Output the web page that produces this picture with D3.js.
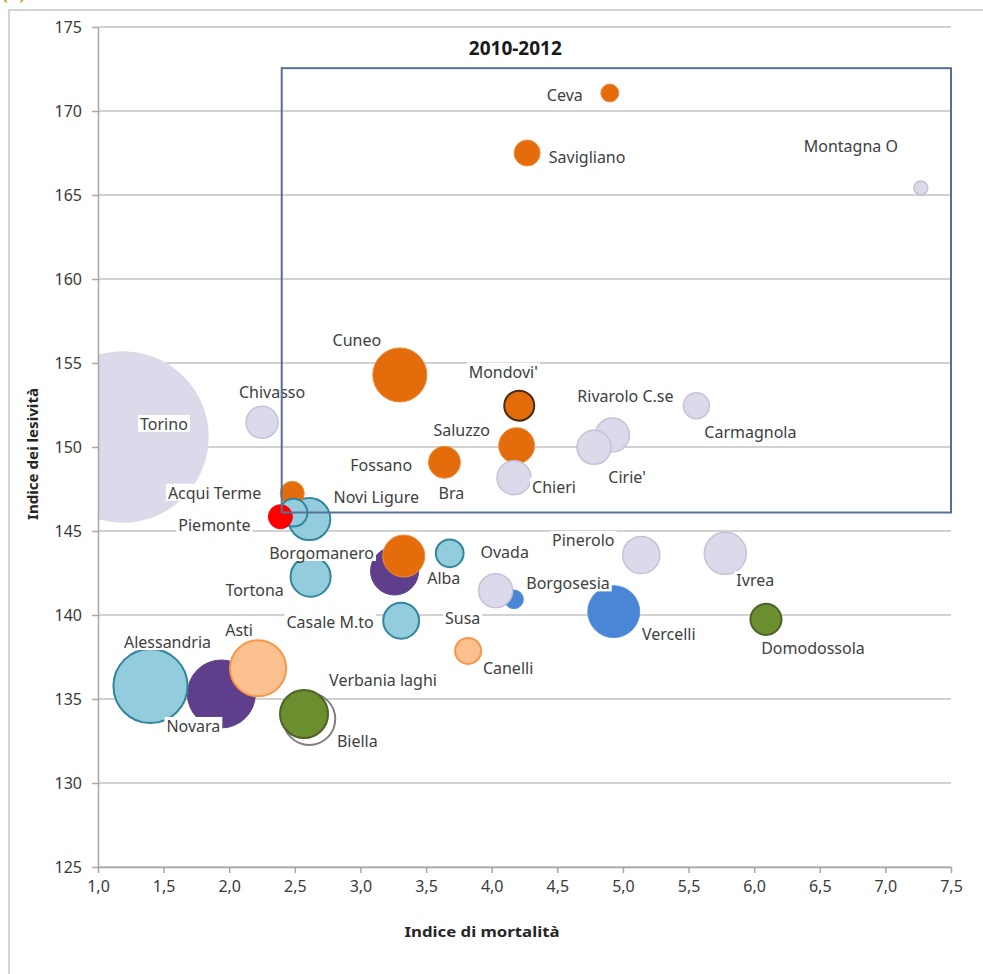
<!DOCTYPE html>
<html>
<head>
<meta charset="utf-8">
<script src="https://cdn.jsdelivr.net/npm/d3@7"></script>
<style>
  html, body { margin: 0; padding: 0; background: #ffffff; }
  svg { display: block; }
  text { font-family: "Noto Sans", "Open Sans", sans-serif; }
</style>
</head>
<body>
<script>
// ---------------- DATA ----------------
const names = ["Torino","Novara","Alessandria","Asti","Biella","Verbania laghi","Borgomanero","Alba",
  "Casale M.to","Tortona","Ovada","Canelli","Novi Ligure","Fossano","Acqui Terme","Piemonte",
  "Chivasso","Cuneo","Bra","Saluzzo","Mondovi'","Chieri","Rivarolo C.se","Cirie'","Carmagnola",
  "Borgosesia","Susa","Pinerolo","Ivrea","Vercelli","Domodossola","Ceva","Savigliano","Montagna O"];
// Indice di mortalità (x)
const mortalita = [1.19,1.94,1.40,2.22,2.61,2.57,3.26,3.33,
  3.31,2.62,3.68,3.82,2.61,2.48,2.49,2.39,
  2.25,3.30,3.64,4.19,4.21,4.17,4.92,4.78,5.56,
  4.17,4.03,5.14,5.78,4.93,6.09,4.90,4.27,7.27];
// Indice di lesività (y)
const lesivita = [150.60,135.30,135.77,136.83,133.81,134.11,142.62,143.51,
  139.66,142.28,143.67,137.86,145.71,147.24,146.09,145.85,
  151.47,154.29,149.09,150.08,152.46,148.17,150.71,149.98,152.46,
  140.93,141.45,143.57,143.67,140.20,139.74,171.07,167.50,165.42];
// bubble size (population, thousands – estimated)
const sizes = [900,144,171,98,84,72,72,55,
  40,50,24,21,55,18,24,18,
  32,91,32,40,28,36,36,36,21,
  11,36,43,55,84,30,10,21,6];
// ASL group of each district
const groups = ["TO","NO","AL","AT","BI","VCO","NO","CN",
  "AL","AL","AL","AT","AL","CN","AL","PIE",
  "TO","CN","CN","CN","CNM","TO","TO","TO","TO",
  "VC","TO","TO","TO","VC","VCO","CN","CN","TO"];

const yTicks = [125,130,135,140,145,150,155,160,165,170,175];
const xTicks = [1.0,1.5,2.0,2.5,3.0,3.5,4.0,4.5,5.0,5.5,6.0,6.5,7.0,7.5];
const xTickLabels = ["1,0","1,5","2,0","2,5","3,0","3,5","4,0","4,5","5,0","5,5","6,0","6,5","7,0","7,5"];

const periodLabel = "2010-2012";
const periodBoxX = [2.4, 7.5];
const periodBoxY = [146.1, 172.55];
const xTitle = "Indice di mortalità";
const yTitle = "Indice dei lesività";

// ---------------- LAYOUT / STYLE ----------------
const W = 983, H = 974;
const plot = {left: 98, right: 951, top: 27, bottom: 867};
// label offsets (px) from bubble centre
const labelOffsets = [[41,-13],[-28,32],[17,-44],[-19,-38],[48,22],[79,-34],[-73,-18],[40,22],
  [-71,1],[-56,13],[55,-1],[40,17],[67,-22],[89,-28],[-79,-20],[-66,8],
  [10,-30],[-43,-35],[7,31],[-55,-16],[-16,-34],[40,9],[13,-39],[33,30],[54,26],
  [54,-16],[-33,27],[-58,-15],[30,27],[55,22],[47,29],[-45,2],[60,4],[-70,-42]];
const styles = {
  TO:  {fill:"#dcd9ea", stroke:"#c6c1d9", sw:1.5},
  NO:  {fill:"#5f3f8b", stroke:"#5f3f8b", sw:1},
  AL:  {fill:"#93cddd", stroke:"#31859c", sw:2},
  AT:  {fill:"#fbc08f", stroke:"#f79646", sw:2},
  BI:  {fill:"#ffffff", stroke:"#808080", sw:2},
  VCO: {fill:"#6b8e2f", stroke:"#4f6228", sw:2},
  CN:  {fill:"#e46c0a", stroke:"#f08a3c", sw:1},
  CNM: {fill:"#e46c0a", stroke:"#4a2a10", sw:2},
  VC:  {fill:"#4a86d6", stroke:"#5b93dd", sw:1},
  PIE: {fill:"#ff0000", stroke:"#ff0000", sw:1}
};

const svg = d3.select("body").append("svg").attr("width", W).attr("height", H);
svg.append("rect").attr("width", W).attr("height", H).attr("fill", "#fff");

// outer chart frame
svg.append("rect").attr("x", 9).attr("y", 10).attr("width", 990).attr("height", 990)
  .attr("fill", "none").attr("stroke", "#d4d4d4").attr("stroke-width", 2);
// clipped caption mark (only its lower edge is visible, as in the source)
svg.append("text").attr("x", 2).attr("y", -1).attr("font-size", 20).attr("fill", "#c8960c").text("(a)");

const x = d3.scaleLinear().domain([1, 7.5]).range([plot.left, plot.right]);
const y = d3.scaleLinear().domain([125, 175]).range([plot.bottom, plot.top]);
const r = d3.scaleSqrt().domain([0, 900]).range([0, 85]);

// gridlines
svg.append("g").selectAll("line").data(yTicks).join("line")
  .attr("x1", plot.left).attr("x2", plot.right)
  .attr("y1", d => y(d)).attr("y2", d => y(d))
  .attr("stroke", "#c3c3c3").attr("stroke-width", 1.5);

// clip
svg.append("clipPath").attr("id", "clip").append("rect")
  .attr("x", plot.left).attr("y", plot.top)
  .attr("width", plot.right - plot.left).attr("height", plot.bottom - plot.top);

const data = names.map((n, i) => ({name: n, x: mortalita[i], y: lesivita[i], s: sizes[i], g: groups[i], off: labelOffsets[i]}));

svg.append("g").attr("clip-path", "url(#clip)").selectAll("circle").data(data).join("circle")
  .attr("cx", d => x(d.x)).attr("cy", d => y(d.y)).attr("r", d => r(d.s))
  .attr("fill", d => styles[d.g].fill)
  .attr("stroke", d => d.name === "Torino" ? "#dcd9ea" : styles[d.g].stroke)
  .attr("stroke-width", d => styles[d.g].sw);

// axes
const yAxis = svg.append("g").attr("transform", `translate(${plot.left},0)`)
  .call(d3.axisLeft(y).tickValues(yTicks).tickSize(6).tickSizeOuter(0).tickPadding(10).tickFormat(d => d));
const xAxis = svg.append("g").attr("transform", `translate(0,${plot.bottom})`)
  .call(d3.axisBottom(x).tickValues(xTicks).tickSize(6).tickSizeOuter(0).tickPadding(8).tickFormat((d, i) => xTickLabels[i]));
[yAxis, xAxis].forEach(a => {
  a.select(".domain").attr("stroke", "#a6a6a6").attr("stroke-width", 1.5);
  a.selectAll(".tick line").attr("stroke", "#a6a6a6").attr("stroke-width", 1.5);
  a.selectAll(".tick text").attr("fill", "#3a3a3a").attr("font-size", 16)
    .attr("font-family", "'Noto Sans', sans-serif");
});

// labels with white background
const lg = svg.append("g");
data.forEach(d => {
  const g = lg.append("g");
  const t = g.append("text")
    .attr("x", x(d.x) + d.off[0]).attr("y", y(d.y) + d.off[1])
    .attr("text-anchor", "middle").attr("dominant-baseline", "central")
    .attr("font-size", 16).attr("fill", "#404040").text(d.name);
  const bb = t.node().getBBox();
  g.insert("rect", "text").attr("x", bb.x - 2).attr("y", bb.y + 2)
    .attr("width", bb.width + 4).attr("height", bb.height - 5).attr("fill", "#fff");
});

// period box
svg.append("rect")
  .attr("x", x(periodBoxX[0])).attr("y", y(periodBoxY[1]))
  .attr("width", x(periodBoxX[1]) - x(periodBoxX[0]))
  .attr("height", y(periodBoxY[0]) - y(periodBoxY[1]))
  .attr("fill", "none").attr("stroke", "#56709a").attr("stroke-width", 2);
svg.append("text").attr("x", x(4.18)).attr("y", y(173.33))
  .attr("text-anchor", "middle").attr("font-size", 19).attr("font-weight", "bold")
  .attr("fill", "#1a1a1a").text(periodLabel);

// axis titles
svg.append("text").attr("x", 482).attr("y", 937).attr("text-anchor", "middle")
  .attr("font-size", 15).attr("font-weight", "bold").attr("fill", "#262626")
  .attr("textLength", 155).attr("lengthAdjust", "spacingAndGlyphs").text(xTitle);
svg.append("text").attr("transform", "translate(38,454) rotate(-90)").attr("text-anchor", "middle")
  .attr("font-size", 15).attr("font-weight", "bold").attr("fill", "#262626")
  .attr("textLength", 132).attr("lengthAdjust", "spacingAndGlyphs").text(yTitle);
</script>
</body>
</html>
